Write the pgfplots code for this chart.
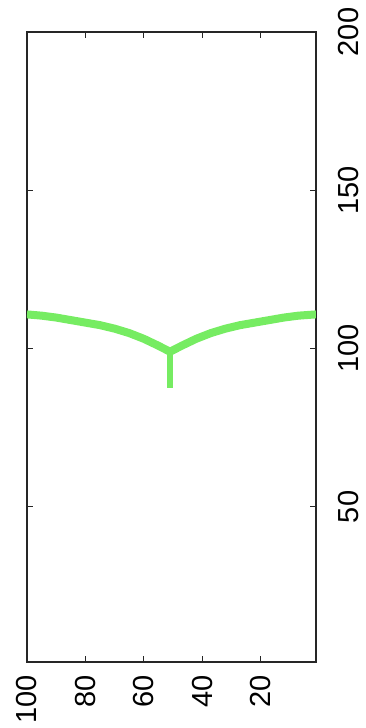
\documentclass[border=0pt]{standalone}
\usepackage{pgfplots}
\pgfplotsset{compat=1.18}
\usepackage{fontspec}
\setmainfont{Liberation Sans}
\definecolor{lgreen}{RGB}{118,236,98}
\begin{document}
\begin{tikzpicture}
\begin{axis}[
  scale only axis,
  width=289pt, height=630pt,
  xmin=1, xmax=100, x dir=reverse,
  ymin=1, ymax=200,
  xtick={20,40,60,80,100},
  ytick={50,100,150,200},
  tick align=inside,
  xtick pos=both, ytick pos=both,
  yticklabel pos=right,
  major tick length=6pt,
  axis line style={line width=1.2pt, black!85},
  tick style={line width=1.2pt, black!85},
  /pgf/number format/assume math mode=true,
  ticklabel style={font=\fontsize{29}{32}\selectfont},
  xticklabel style={rotate=90, anchor=east, inner xsep=13pt, inner ysep=0pt},
  yticklabel style={rotate=90, anchor=north, inner ysep=22pt, inner xsep=0pt},
  clip=true,
]
\addplot[lgreen, line width=8pt, line join=round] coordinates {
(100,110.8) (95,110.4) (90,109.8) (85,109.0) (80,108.2) (75,107.4)
(70,106.3) (65,104.9) (60,103.1) (55,100.9) (51,99.0)
(47,100.9) (42,103.1) (37,104.9) (32,106.3) (27,107.4)
(22,108.2) (17,109.0) (12,109.8) (7,110.4) (1,110.8)
};
\addplot[lgreen, line width=6.5pt] coordinates {(51,99.5) (51,87.5)};
\end{axis}
\pgfresetboundingbox
\path[use as bounding box] (-27pt,-66pt) rectangle (338pt,662pt);
\end{tikzpicture}
\end{document}
